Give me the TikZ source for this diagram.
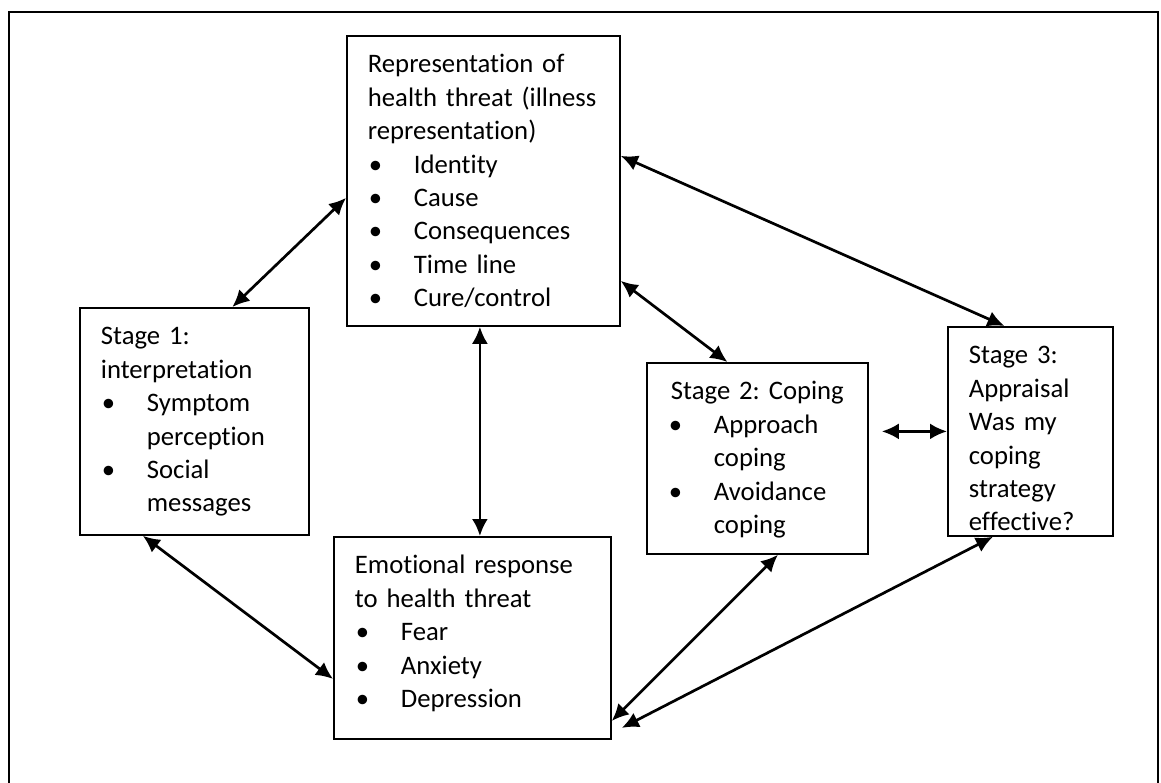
\documentclass[tikz,border=0pt]{standalone}
\usepackage{fontspec}
\setmainfont{Carlito}[Ligatures={TeX,NoCommon}]
\usepackage{tikz}
\usetikzlibrary{arrows.meta, calc}

% bullet line with hanging indent
\newcommand{\bul}[1]{\par\hangindent=46pt\hangafter=1\noindent\makebox[46pt][l]{\hspace{1pt}\textbullet}#1\par}

\begin{document}
\begin{tikzpicture}[x=1pt, y=-1pt,
    stagebox/.style={draw, line width=1.8pt, anchor=north west, align=left, inner xsep=21pt, inner ysep=17pt, text height=20pt, font=\fontsize{26.7}{33.4}\selectfont\frenchspacing},
    twoway/.style={{Latex[length=17pt,width=16pt]}-{Latex[length=17pt,width=16pt]}, line width=2.7pt}
]
\useasboundingbox (0,0) rectangle (1161,783);

% Outer frame
\draw[line width=1.8pt] (9,783) -- (9,12) -- (1158,12) -- (1158,783);

% Illness representation
\node[stagebox, text width=231pt, text depth=236pt] (rep) at (346,35)
  {Representation of\\health threat (illness\\representation)
   \bul{Identity}\bul{Cause}\bul{Consequences}\bul{Time line}\bul{Cure/control}};

% Stage 1
\node[stagebox, text width=187pt, text depth=173pt] (interp) at (79,307)
  {Stage 1:\\interpretation
   \bul{Symptom\newline perception}\bul{Social\newline messages}};

% Emotional response
\node[stagebox, text width=235pt, text depth=148pt] (emo) at (333,536)
  {Emotional response\\to health threat
   \bul{Fear}\bul{Anxiety}\bul{Depression}};

% Stage 2
\node[stagebox, text width=179pt, text depth=137pt] (coping) at (646,362)
  {{\centering Stage 2: Coping\par}
   \bul{Approach\newline coping}\bul{Avoidance\newline coping}};

% Stage 3
\node[stagebox, text width=123pt, text depth=155pt] (appraisal) at (947,326)
  {Stage 3:\\Appraisal\\Was my\\coping\\strategy\\effective?};

% Arrows
\draw[twoway] ($(rep.west)+(0,17)$) -- ($(interp.north)+(38,0)$);
\draw[twoway] ($(rep.south)+(-3.5,0)$) -- ($(emo.north)+(7.5,0)$);
\draw[twoway] ($(rep.east)+(0,-25)$) -- ($(appraisal.north)+(-26,0)$);
\draw[twoway] ($(rep.east)+(0,100)$) -- ($(coping.north)+(-30,0)$);
\draw[twoway, shorten <=13pt] (coping.east |- appraisal.west) -- (appraisal.west);
\draw[twoway] ($(interp.south)+(-51.5,0)$) -- ($(emo.west)+(0,41)$);
\draw[twoway] ($(emo.east)+(0,83)$) -- ($(coping.south)+(20.5,0)$);
\draw[twoway] ($(emo.east)+(10,90)$) -- ($(appraisal.south)+(-37.5,0)$);

\end{tikzpicture}
\end{document}
